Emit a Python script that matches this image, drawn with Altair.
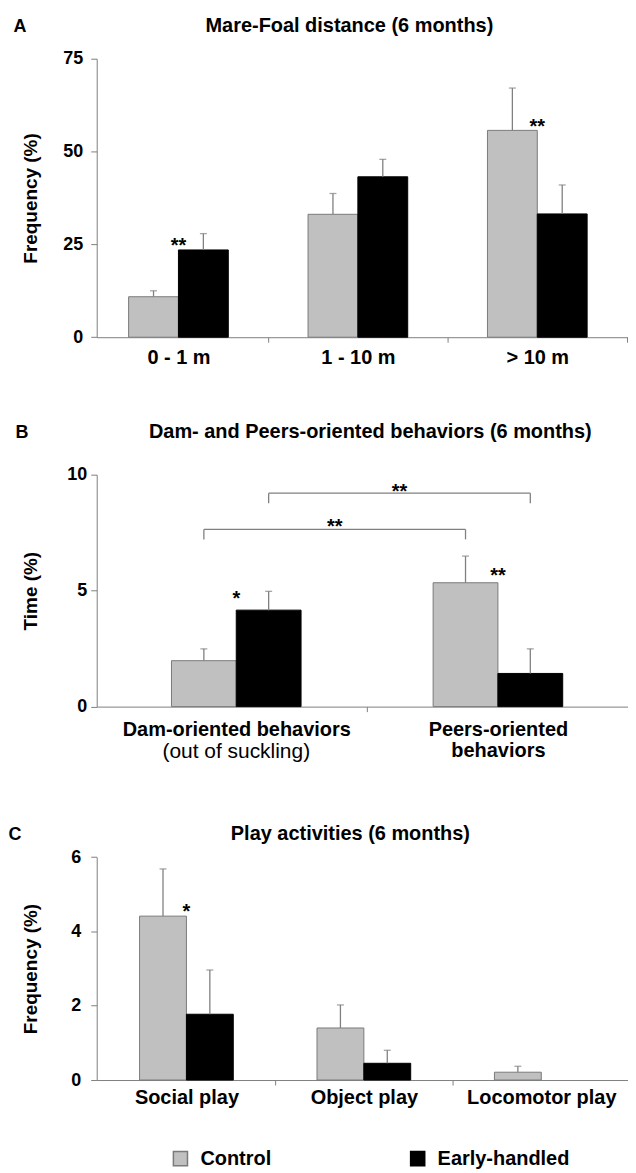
import json
import pandas as pd
import altair as alt

FONT = "Liberation Sans"
LINE = "#808080"

groups = ["Control", "Early-handled"]
fill_colors = ["#c0c0c0", "#000000"]
stroke_colors = ["#7a7a7a", "#000000"]

# ---------------- Panel A : Mare-Foal distance
a_cats = ["0 - 1 m", "1 - 10 m", "> 10 m"]
a_control = [10.9, 33.1, 55.7]
a_control_se = [1.6, 5.6, 11.4]
a_eh = [23.5, 43.2, 33.2]
a_eh_se = [4.4, 4.7, 7.8]
a_star_cat = ["0 - 1 m", "> 10 m"]
a_star_text = ["**", "**"]
a_star_y = [24.5, 56.7]
a_yticks = [0, 25, 50, 75]

# ---------------- Panel B : Dam- and Peers-oriented behaviors
b_cats = ["Dam-oriented behaviors", "Peers-oriented behaviors"]
b_label_lines = [["Dam-oriented behaviors"], ["Peers-oriented", "behaviors"]]
b_sub_cat = ["Dam-oriented behaviors"]
b_sub_text = ["(out of suckling)"]
b_sub_y = [-1.97]
b_control = [1.98, 5.34]
b_control_se = [0.51, 1.15]
b_eh = [4.16, 1.43]
b_eh_se = [0.81, 1.06]
b_star_cat = ["Dam-oriented behaviors", "Peers-oriented behaviors"]
b_star_text = ["*", "**"]
b_star_y = [4.65, 5.64]
b_yticks = [0, 5, 10]
b_br_group = ["Control", "Early-handled"]
b_br_from = ["Dam-oriented behaviors", "Dam-oriented behaviors"]
b_br_to = ["Peers-oriented behaviors", "Peers-oriented behaviors"]
b_br_level = [7.64, 9.2]
b_br_leg = [7.21, 8.77]
b_br_text = ["**", "**"]
b_br_text_y = [7.75, 9.25]

# ---------------- Panel C : Play activities
c_cats = ["Social play", "Object play", "Locomotor play"]
c_control = [4.41, 1.40, 0.21]
c_control_se = [1.27, 0.62, 0.16]
c_eh = [1.77, 0.45, 0.0]
c_eh_se = [1.19, 0.35, 0.0]
c_star_cat = ["Social play"]
c_star_text = ["*"]
c_star_y = [4.52]
c_yticks = [0, 1, 2, 3, 4, 5, 6]

W = 533

legend = alt.Legend(
    title=None, orient="none", legendX=74, legendY=1093, direction="horizontal",
    symbolType="square", symbolSize=200, symbolStrokeWidth=1.5,
    labelFont=FONT, labelFontSize=20, labelFontWeight="bold", labelColor="black",
    labelOffset=10, columnPadding=135,
)


def group_x(cats, cat, group, bw):
    c = cats.index(cat) + 0.5
    return c - bw / 2 if group == "Control" else c + bw / 2


def make_panel(cats, labels, ctrl, ctrl_se, eh, eh_se, star_cat, star_text, star_y,
               y_max, y_ticks, y_title, letter, title, lay, even_only=False, extra=None):
    H, top, step, c0 = lay["H"], lay["top"], lay["step"], lay["c0"]
    bw = lay["bw"] / step
    x0 = 0.5 - c0 / step
    x1 = x0 + W / step
    n = len(cats)

    rows = []
    for i, cat in enumerate(cats):
        c = i + 0.5
        for g, v, s, lo, hi in [("Control", ctrl[i], ctrl_se[i], c - bw, c),
                                ("Early-handled", eh[i], eh_se[i], c, c + bw)]:
            rows.append(dict(cat=cat, group=g, x1=lo, x2=hi, xc=(lo + hi) / 2,
                             value=v, top=v + s, se=s, zero=0))
    df = pd.DataFrame(rows)
    df = df[df.value > 0]
    err = df[df.se > 0]

    xvals = sorted([i + 0.5 for i in range(n)] + [i + 1 for i in range(n) if x0 < i + 1 < x1])
    lab_json = json.dumps(labels)
    xaxis = alt.Axis(
        values=xvals, title=None, grid=False,
        labelExpr=f"datum.value % 1 == 0 ? '' : {lab_json}[floor(datum.value)]",
        tickOpacity={"condition": {"test": "datum.value % 1 == 0", "value": 1}, "value": 0},
        domainColor=LINE, tickColor=LINE, tickSize=5, labelPadding=lay["xlabpad"],
        labelFont=FONT, labelFontSize=20, labelFontWeight="bold", labelColor="black",
        labelOverlap=False, labelFlush=False, labelLineHeight=21, labelBaseline="top",
        labelLimit=0,
    )
    ylabel_expr = "datum.value % 2 == 0 ? datum.label : ''" if even_only else "datum.label"
    yaxis = alt.Axis(
        values=y_ticks, grid=False, title=y_title, labelExpr=ylabel_expr,
        domainColor=LINE, tickColor=LINE, tickSize=6, labelPadding=lay["ylabpad"],
        labelFont=FONT, labelFontSize=18, labelFontWeight="bold", labelColor="black",
        titleFont=FONT, titleFontSize=19, titleFontWeight="bold", titleColor="black",
        titleAngle=270, titleBaseline="alphabetic", titleAlign="center",
        titleX=-60.5, titleY=top + H / 2,
    )
    xs = alt.Scale(domain=[x0, x1], nice=False, zero=False)
    ys = alt.Scale(domain=[0, y_max], nice=False, range=[top + H, top])

    bars = alt.Chart(df).mark_bar(strokeWidth=1).encode(
        x=alt.X("x1:Q", scale=xs, axis=xaxis, title=None),
        x2="x2:Q",
        y=alt.Y("value:Q", scale=ys, axis=yaxis, stack=None, title=y_title),
        y2="zero:Q",
        color=alt.Color("group:N", scale=alt.Scale(domain=groups, range=fill_colors), legend=legend),
        stroke=alt.Stroke("group:N", scale=alt.Scale(domain=groups, range=stroke_colors), legend=legend),
    )
    rules = alt.Chart(err).mark_rule(color=LINE, strokeWidth=1.3).encode(
        x="xc:Q", y="value:Q", y2="top:Q")
    caps = alt.Chart(err).mark_tick(orient="horizontal", size=7, thickness=1.3, color=LINE).encode(
        x="xc:Q", y="top:Q")

    sdf = pd.DataFrame(dict(x=[cats.index(c) + 0.5 for c in star_cat], y=star_y, t=star_text))
    stars = alt.Chart(sdf).mark_text(font=FONT, fontSize=20, fontWeight="bold", baseline="middle",
                                     align="center", color="black").encode(
        x="x:Q", y="y:Q", text="t:N")

    let = alt.Chart(pd.DataFrame(dict(t=[letter]))).mark_text(
        font=FONT, fontSize=18, fontWeight="bold", align="left", baseline="alphabetic",
        color="black", x=lay["letter_x"], y=lay["text_y"]).encode(text="t:N")
    ttl = alt.Chart(pd.DataFrame(dict(t=[title]))).mark_text(
        font=FONT, fontSize=20, fontWeight="bold", align="center", baseline="alphabetic",
        color="black", x=lay["title_x"], y=lay["text_y"]).encode(text="t:N")

    layers = [bars, rules, caps, stars]
    if extra is not None:
        layers += extra(cats, bw)
    layers += [let, ttl]
    return alt.layer(*layers).properties(width=W, height=top + H)


def b_extra(cats, bw):
    hr, legs, labs, subs = [], [], [], []
    for g, f, t, lv, lg, tx, ty in zip(b_br_group, b_br_from, b_br_to, b_br_level, b_br_leg,
                                       b_br_text, b_br_text_y):
        xa = group_x(cats, f, g, bw)
        xb = group_x(cats, t, g, bw)
        hr.append(dict(xa=xa, xb=xb, y=lv))
        legs.append(dict(x=xa, y=lv, y2=lg))
        legs.append(dict(x=xb, y=lv, y2=lg))
        labs.append(dict(x=(xa + xb) / 2, y=ty, t=tx))
    for c, t, y in zip(b_sub_cat, b_sub_text, b_sub_y):
        subs.append(dict(x=cats.index(c) + 0.5, y=y, t=t))
    h = alt.Chart(pd.DataFrame(hr)).mark_rule(color=LINE, strokeWidth=1.3).encode(
        x="xa:Q", x2="xb:Q", y="y:Q")
    l = alt.Chart(pd.DataFrame(legs)).mark_rule(color=LINE, strokeWidth=1.3).encode(
        x="x:Q", y="y:Q", y2="y2:Q")
    s = alt.Chart(pd.DataFrame(labs)).mark_text(font=FONT, fontSize=20, fontWeight="bold",
                                               baseline="middle", align="center", color="black").encode(
        x="x:Q", y="y:Q", text="t:N")
    sub = alt.Chart(pd.DataFrame(subs)).mark_text(font=FONT, fontSize=21, fontWeight="normal",
                                                 baseline="middle", align="center", color="black").encode(
        x="x:Q", y="y:Q", text="t:N")
    return [h, l, s, sub]


lay_a = dict(H=279.4, top=0, step=180, c0=82, bw=50, xlabpad=5, ylabpad=8,
             letter_x=-83.5, text_y=-27, title_x=253.5)
lay_b = dict(H=232.7, top=0, step=262.5, c0=140, bw=65, xlabpad=8, ylabpad=4,
             letter_x=-81.5, text_y=-37, title_x=274.5)
lay_c = dict(H=223.7, top=13.3, step=178, c0=90, bw=47, xlabpad=2.5, ylabpad=10,
             letter_x=-88.5, text_y=-4, title_x=254.5)

pa = make_panel(a_cats, a_cats, a_control, a_control_se, a_eh, a_eh_se,
                a_star_cat, a_star_text, a_star_y, 75, a_yticks, "Frequency (%)",
                "A", "Mare-Foal distance (6 months)", lay_a)
pb = make_panel(b_cats, b_label_lines, b_control, b_control_se, b_eh, b_eh_se,
                b_star_cat, b_star_text, b_star_y, 10, b_yticks, "Time (%)",
                "B", "Dam- and Peers-oriented behaviors (6 months)", lay_b, extra=b_extra)
pc = make_panel(c_cats, c_cats, c_control, c_control_se, c_eh, c_eh_se,
                c_star_cat, c_star_text, c_star_y, 6, c_yticks, "Frequency (%)",
                "C", "Play activities (6 months)", lay_c, even_only=True)

chart = alt.vconcat(pa, pb, pc, spacing=137.3, bounds="flush").resolve_scale(
    x="independent", y="independent", color="shared", stroke="shared"
).properties(
    padding={"left": 0, "top": 6, "right": 0, "bottom": 0}
).configure_view(stroke=None)

chart.save("out.html", embed_options={"renderer": "svg", "actions": False})
